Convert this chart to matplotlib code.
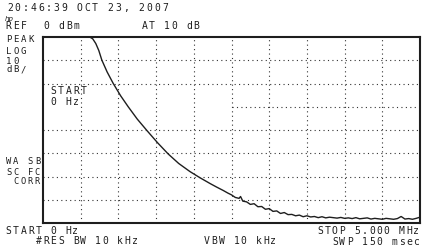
import matplotlib
matplotlib.use("Agg")
import matplotlib.pyplot as plt

# trace: frequency (MHz) and level (dBm)
freq = [0.0, 0.62, 0.66, 0.70, 0.74, 0.78, 0.85, 0.93, 1.03, 1.13, 1.25, 1.38,
        1.52, 1.66, 1.80, 1.95, 2.08, 2.22, 2.30, 2.39, 2.45,
        2.50, 2.55, 2.60, 2.62, 2.65, 2.70, 2.75, 2.80, 2.85, 2.90, 2.95,
        3.00, 3.05, 3.10, 3.15, 3.20, 3.25, 3.30, 3.35, 3.40, 3.45, 3.50,
        3.55, 3.60, 3.65, 3.70, 3.75, 3.80, 3.85, 3.90, 3.95, 4.00, 4.05,
        4.10, 4.15, 4.20, 4.25, 4.30, 4.35, 4.40, 4.45, 4.50, 4.55, 4.60,
        4.65, 4.70, 4.75, 4.80, 4.85, 4.90, 4.95, 5.00]
level = [0, 0, -0.8, -2.8, -5.8, -9.9, -15.0, -19.9, -25.3, -30.0, -35.3, -40.3,
         -45.5, -50.3, -54.4, -57.9, -60.5, -63.1, -64.5, -66.0, -67.1,
         -67.9, -69.0, -69.4, -68.6, -70.6, -70.9, -72.0, -71.7, -73.0, -72.9, -74.1,
         -73.8, -75.0, -74.8, -75.9, -75.5, -76.4, -76.3, -76.9, -76.6, -77.3, -76.9,
         -77.4, -77.2, -77.7, -77.3, -77.8, -77.5, -77.7, -77.9, -77.6, -78.0, -77.8,
         -78.1, -77.7, -78.2, -78.0, -77.8, -78.3, -78.0, -78.2, -78.4, -78.0, -78.2,
         -78.4, -78.1, -77.2, -78.3, -78.1, -78.4, -78.0, -77.5]

W, H = 430, 249
fig = plt.figure(figsize=(W / 100, H / 100), dpi=100)
ax = fig.add_axes([43 / W, 1 - 223 / H, 377 / W, 186 / H])

ink = "#1e1e1e"
dots = dict(color="#333333", lw=0.8, ls=(0, (1, 3)))
for i in range(1, 10):
    ax.axvline(0.5 * i, **dots)
for lv in [-10, -20, -40, -50, -60, -70]:
    ax.axhline(lv, **dots)
ax.plot([2.5, 5.0], [-30, -30], **dots)  # this line is only half drawn on the screen

ax.plot(freq, level, color=ink, lw=1.0, clip_on=False)
ax.set_xlim(0, 5)
ax.set_ylim(-80, 0)
ax.set_xticks([])
ax.set_yticks([])
for s in ax.spines.values():
    s.set_linewidth(1.5)
    s.set_color(ink)


def mono(x, y, s, step=7.4, size=7):
    # place characters one by one like the analyzer's fixed-pitch font
    for i, c in enumerate(s):
        fig.text((x + i * step + step / 2) / W, 1 - y / H, c, ha="center", va="center",
                 family="DejaVu Sans Mono", fontsize=size, color=ink)


def mono_r(xr, y, s, step=7.4):
    mono(xr - len(s) * step, y, s, step)


mono(6, 8, "20:46:39 OCT 23, 2007", step=7.75)
fig.text(5 / W, 1 - 19 / H, "hp", fontsize=5, style="italic", color=ink, va="center")
mono(5, 26, "REF")
mono(43, 26, "0 dBm")
mono(141, 26, "AT 10 dB")
mono(5, 40, "PEAK", size=6.5)
mono(5, 51, "LOG", size=6.5)
mono(5, 61, "10", size=6.5)
mono(5, 70, "dB/", size=6.5)
mono(50, 91, "START")
mono(50, 102, "0 Hz")
mono(5, 162, "WA SB", step=7.2, size=6.3)
mono(5, 172, "SC FC", step=7.2, size=6.3)
mono(12, 182, "CORR", step=7.2, size=6.3)
mono(5, 231, "START 0 Hz")
mono(35, 241, "#RES BW 10 kHz")
mono(203, 241, "VBW 10 kHz")
mono_r(420, 231, "STOP 5.000 MHz")
mono_r(420, 242, "SWP 150 msec")

fig.savefig("out.png", dpi=100)
